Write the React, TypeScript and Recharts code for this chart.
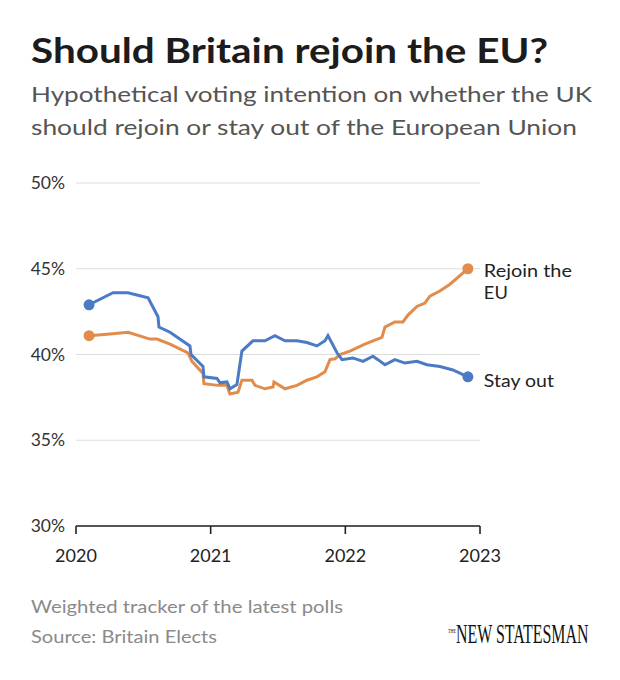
import React from "react";
import { LineChart, Line, XAxis, YAxis, CartesianGrid } from "recharts";

// Decimal-year dates and poll shares (%)
const stayOutDates = [
  2020.097, 2020.275, 2020.386, 2020.535, 2020.609, 2020.616, 2020.698, 2020.846, 2020.854,
  2020.943, 2020.95, 2021.047, 2021.069, 2021.121, 2021.143, 2021.195, 2021.232, 2021.314,
  2021.403, 2021.477, 2021.552, 2021.641, 2021.715, 2021.789, 2021.849, 2021.871, 2021.938,
  2021.975, 2022.056, 2022.131, 2022.205, 2022.242, 2022.294, 2022.368, 2022.442, 2022.532,
  2022.606, 2022.702, 2022.799, 2022.91,
];
const stayOutValues = [
  42.9, 43.6, 43.6, 43.3, 42.2, 41.6, 41.3, 40.5, 40.0,
  39.3, 38.7, 38.6, 38.35, 38.4, 38.0, 38.25, 40.2, 40.8,
  40.8, 41.1, 40.8, 40.8, 40.7, 40.5, 40.8, 41.1, 40.1,
  39.7, 39.8, 39.6, 39.9, 39.7, 39.4, 39.7, 39.5, 39.6,
  39.4, 39.3, 39.1, 38.7,
];

const rejoinDates = [
  2020.097, 2020.252, 2020.386, 2020.549, 2020.601, 2020.698, 2020.831, 2020.861, 2020.943,
  2020.95, 2021.054, 2021.121, 2021.143, 2021.203, 2021.232, 2021.307, 2021.329, 2021.403,
  2021.463, 2021.47, 2021.552, 2021.641, 2021.715, 2021.789, 2021.849, 2021.886, 2021.923,
  2021.96, 2022.034, 2022.145, 2022.205, 2022.272, 2022.294, 2022.368, 2022.428, 2022.465,
  2022.532, 2022.591, 2022.628, 2022.702, 2022.777, 2022.851, 2022.91,
];
const rejoinValues = [
  41.1, 41.2, 41.3, 40.9, 40.9, 40.6, 40.1, 39.6, 38.9,
  38.3, 38.2, 38.2, 37.7, 37.8, 38.5, 38.5, 38.2, 38.0,
  38.1, 38.4, 38.0, 38.2, 38.5, 38.7, 39.0, 39.7, 39.75,
  40.0, 40.2, 40.6, 40.8, 41.0, 41.6, 41.9, 41.9, 42.3,
  42.8, 43.0, 43.4, 43.7, 44.1, 44.6, 45.0,
];

const yearTicks = [2020, 2021, 2022, 2023];
const percentTicks = [30, 35, 40, 45, 50];

const rejoinLabel = ["Rejoin the", "EU"];
const stayOutLabel = ["Stay out"];

const BLUE = "#4a7bc4";
const ORANGE = "#e28c4b";
const FONT = "Lato, 'Noto Sans', sans-serif";
const SERIF = "'Liberation Serif', serif";

const stayOutData = stayOutDates.map((t, i) => ({ t, v: stayOutValues[i] }));
const rejoinData = rejoinDates.map((t, i) => ({ t, v: rejoinValues[i] }));

function makeDot(color: string, count: number, label: string[], labelDy: number, widths: number[]) {
  return (props: any) => {
    const { cx, cy, index } = props;
    if (index !== 0 && index !== count - 1) return <g key={`d-${index}`} />;
    return (
      <g key={`d-${index}`}>
        <circle cx={cx} cy={cy} r={5.5} fill={color} stroke="none" />
        {index === count - 1 &&
          label.map((line, i) => (
            <text
              key={i}
              x={cx + 16}
              y={cy + labelDy + i * 21.5}
              fontFamily={FONT}
              fontSize={17.5}
              textLength={widths[i]}
              lengthAdjust="spacingAndGlyphs"
              fill="#222"
            >
              {line}
            </text>
          ))}
      </g>
    );
  };
}

const T = (p: any) => (
  <text
    x={p.x}
    y={p.y}
    fontFamily={p.family || FONT}
    fontWeight={p.weight || 400}
    fontSize={p.size}
    fill={p.fill}
    textLength={p.len}
    lengthAdjust="spacingAndGlyphs"
  >
    {p.children}
  </text>
);

export default function App() {
  return (
    <div
      style={{
        position: "absolute",
        left: 0,
        top: 0,
        width: 620,
        height: 680,
        background: "#fff",
        overflow: "hidden",
      }}
    >
      <svg width={620} height={680} style={{ position: "absolute", left: 0, top: 0 }}>
        <T x={31} y={63} weight={700} size={35} fill="#1c1c1c" len={517}>
          Should Britain rejoin the EU?
        </T>
        <T x={31} y={102} size={21} fill="#555" len={561}>
          Hypothetical voting intention on whether the UK
        </T>
        <T x={31} y={135} size={21} fill="#555" len={546}>
          should rejoin or stay out of the European Union
        </T>
        <T x={31} y={613} size={17.5} fill="#8a8a8a" len={312}>
          Weighted tracker of the latest polls
        </T>
        <T x={31} y={643} size={17.5} fill="#8a8a8a" len={186}>
          Source: Britain Elects
        </T>
        <text
          transform="translate(448,633) scale(0.6,1)"
          fontFamily={SERIF}
          fontSize={7}
          fill="#111"
        >
          THE
        </text>
        <text
          transform="translate(456,643) scale(0.59,1)"
          fontFamily={SERIF}
          fontSize={27}
          fill="#111"
        >
          NEW STATESMAN
        </text>
      </svg>
      <div style={{ position: "absolute", left: 0, top: 0 }}>
        <LineChart
          width={620}
          height={680}
          margin={{ top: 183, right: 140, bottom: 124, left: 30 }}
        >
          <CartesianGrid horizontal vertical={false} stroke="#dedede" strokeWidth={1.2} />
          <XAxis
            type="number"
            dataKey="t"
            domain={[2020, 2023]}
            ticks={yearTicks}
            height={30}
            stroke="#222"
            strokeWidth={1.6}
            tickSize={8}
            tickMargin={15}
            tick={{ fill: "#222", fontSize: 18, fontFamily: FONT }}
          />
          <YAxis
            type="number"
            domain={[30, 50]}
            ticks={percentTicks}
            width={46}
            axisLine={false}
            tickLine={false}
            tickSize={0}
            tickMargin={11}
            tickFormatter={(v: number) => `${v}%`}
            tick={{ fill: "#333", fontSize: 17.5, fontFamily: FONT }}
          />
          <Line
            data={rejoinData}
            dataKey="v"
            type="linear"
            stroke={ORANGE}
            strokeWidth={3}
            dot={makeDot(ORANGE, rejoinData.length, rejoinLabel, 8.5, [88, 24])}
            activeDot={false}
            isAnimationActive={false}
          />
          <Line
            data={stayOutData}
            dataKey="v"
            type="linear"
            stroke={BLUE}
            strokeWidth={3}
            dot={makeDot(BLUE, stayOutData.length, stayOutLabel, 10, [70])}
            activeDot={false}
            isAnimationActive={false}
          />
        </LineChart>
      </div>
    </div>
  );
}
